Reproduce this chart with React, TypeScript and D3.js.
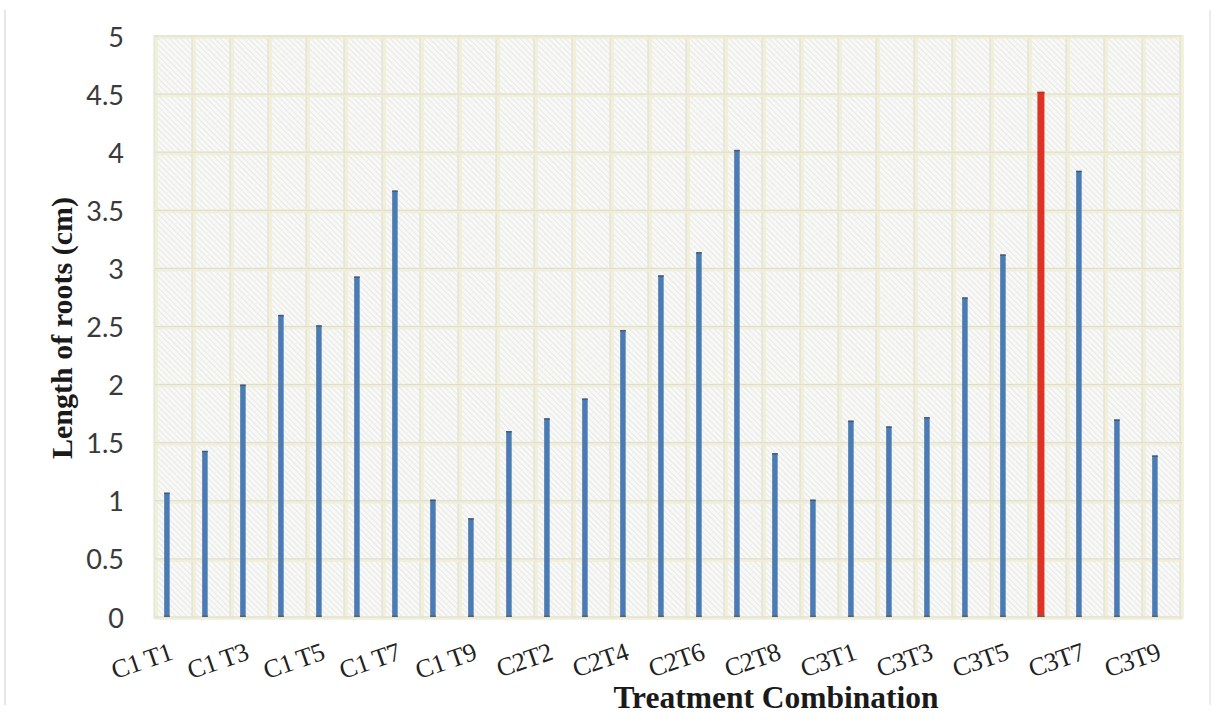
import React from "react";
import * as d3 from "d3";

// Treatment combinations (C = concentration, T = treatment)
const categories: string[] = [
  "C1 T1", "C1 T2", "C1 T3", "C1 T4", "C1 T5", "C1 T6", "C1 T7", "C1 T8", "C1 T9",
  "C2T1", "C2T2", "C2T3", "C2T4", "C2T5", "C2T6", "C2T7", "C2T8", "C2T9",
  "C3T1", "C3T2", "C3T3", "C3T4", "C3T5", "C3T6", "C3T7", "C3T8", "C3T9",
];

// Mean root length (cm) per combination
const rootLength: number[] = [
  1.07, 1.43, 2.0, 2.6, 2.51, 2.93, 3.67, 1.01, 0.85,
  1.6, 1.71, 1.88, 2.47, 2.94, 3.14, 4.02, 1.41, 1.01,
  1.69, 1.64, 1.72, 2.75, 3.12, 4.52, 3.84, 1.7, 1.39,
];

// Best-performing combination, shown in red
const highlighted: string[] = ["C3T6"];

const yTicks: number[] = [0, 0.5, 1, 1.5, 2, 2.5, 3, 3.5, 4, 4.5, 5];

const W = 1213;
const H = 721;
const plot = { left: 155, right: 1182, top: 35, bottom: 619 };

export default function App() {
  const x = d3
    .scaleBand<string>()
    .domain(categories)
    .range([154, 1180])
    .paddingInner(0)
    .paddingOuter(0);
  const y = d3.scaleLinear().domain([0, 5]).range([617, 36]);
  const bw = x.bandwidth();
  const barPos = (c: string) => (x(c) as number) + bw * 0.34;

  const vLines = d3.range(categories.length + 1).map((i) => 154 + i * bw);

  return (
    <svg
      width={W}
      height={H}
      style={{ position: "absolute", left: 0, top: 0, background: "#fff" }}
    >
      <defs>
        <pattern
          id="hatch"
          width={4}
          height={4}
          patternUnits="userSpaceOnUse"
          patternTransform="rotate(-45)"
        >
          <rect width={4} height={4} fill="#f8f8f6" />
          <line x1={0} y1={0} x2={0} y2={4} stroke="#dedede" strokeWidth={1.2} />
        </pattern>
      </defs>

      {/* page frame lines */}
      <line x1={5} y1={10} x2={5} y2={705} stroke="#e6e6e6" strokeWidth={2} />
      <line x1={1210} y1={10} x2={1210} y2={705} stroke="#ececec" strokeWidth={2} />

      {/* plot area */}
      <rect
        x={plot.left}
        y={plot.top}
        width={plot.right - plot.left}
        height={plot.bottom - plot.top}
        fill="url(#hatch)"
      />

      {/* vertical grid */}
      {vLines.map((vx, i) => (
        <g key={"v" + i}>
          <line x1={vx + 2} y1={plot.top} x2={vx + 2} y2={plot.bottom} stroke="#f1efd2" strokeWidth={4} opacity={0.8} />
          <line x1={vx} y1={plot.top} x2={vx} y2={plot.bottom} stroke="#dcdcd8" strokeWidth={1} />
        </g>
      ))}

      {/* horizontal grid */}
      {yTicks.map((t) => (
        <g key={"h" + t}>
          <line x1={plot.left} y1={y(t) + 1} x2={plot.right} y2={y(t) + 1} stroke="#f1efd2" strokeWidth={4} opacity={0.8} />
          <line x1={plot.left} y1={y(t)} x2={plot.right} y2={y(t)} stroke="#dcdcd8" strokeWidth={1} />
        </g>
      ))}

      {/* bars */}
      {categories.map((c, i) => {
        const hi = highlighted.includes(c);
        const w = hi ? 7 : 5.5;
        const cx = barPos(c);
        return (
          <g key={c}>
            <rect
              x={cx - w / 2}
              y={y(rootLength[i])}
              width={w}
              height={y(0) - y(rootLength[i])}
              fill={hi ? "#dc3324" : "#4a7bb2"}
            />
            <rect x={cx - w / 2} y={y(rootLength[i])} width={w} height={1.5} fill={hi ? "#b8342a" : "#4b5a6e"} />
            <rect x={cx - w / 2} y={y(0) - 1.5} width={w} height={1.5} fill="#56606c" />
          </g>
        );
      })}

      {/* y tick labels */}
      {yTicks.map((t) => (
        <text
          key={"yt" + t}
          x={124}
          y={y(t)}
          textAnchor="end"
          dominantBaseline="central"
          fontFamily="Lato, 'Open Sans', sans-serif"
          fontSize={27}
          fill="#3a3a3a"
        >
          {t}
        </text>
      ))}

      {/* x tick labels, every other category */}
      {categories.map((c, i) =>
        i % 2 === 0 ? (
          <text
            key={"xt" + c}
            transform={`translate(${barPos(c) + 7},659) rotate(-19)`}
            textAnchor="end"
            fontFamily="'Liberation Serif', 'Times New Roman', serif"
            fontSize={26}
            letterSpacing={-0.6}
            fill="#222"
          >
            {c}
          </text>
        ) : null
      )}

      {/* axis titles */}
      <text
        x={776}
        y={708}
        textAnchor="middle"
        fontFamily="'Liberation Serif', 'Times New Roman', serif"
        fontWeight="bold"
        fontSize={31.5}
        fill="#1a1a1a"
      >
        Treatment Combination
      </text>
      <text
        transform={`translate(72,328) rotate(-90)`}
        textAnchor="middle"
        fontFamily="'Liberation Serif', 'Times New Roman', serif"
        fontWeight="bold"
        fontSize={30}
        fill="#1a1a1a"
      >
        Length of roots (cm)
      </text>
    </svg>
  );
}
